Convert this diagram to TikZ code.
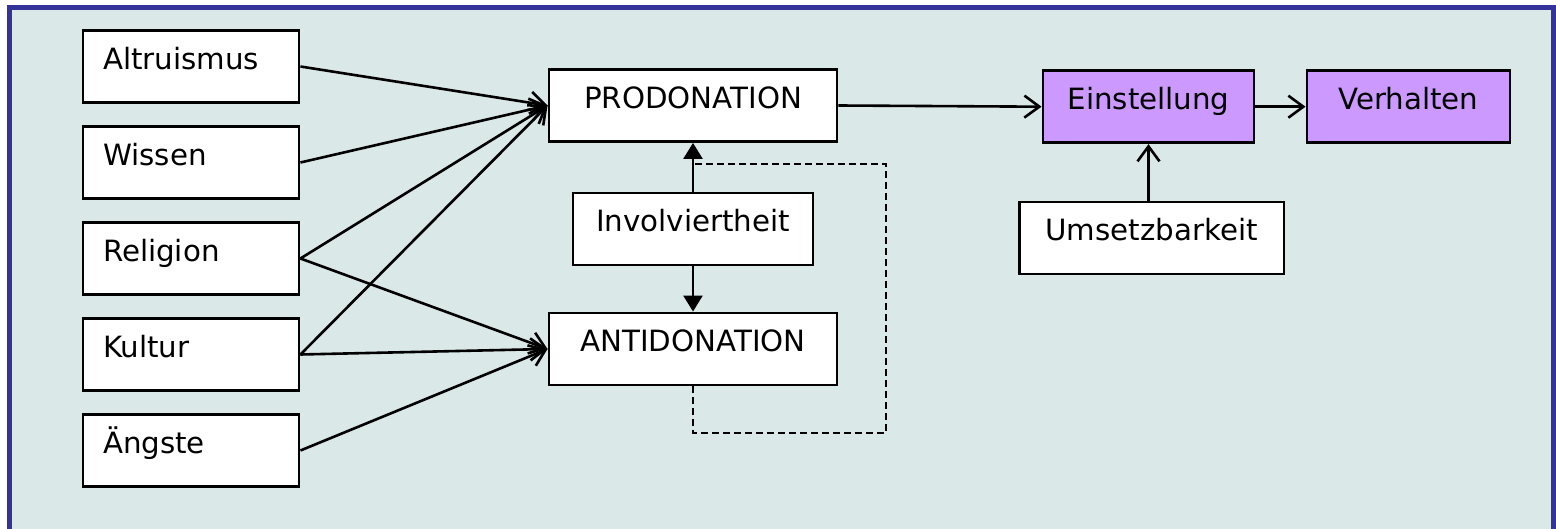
\documentclass[tikz,border=0pt]{standalone}
\usepackage{fontspec}
\setmainfont{DejaVu Sans}
\usetikzlibrary{arrows.meta}
\definecolor{bgc}{HTML}{DAE8E8}
\definecolor{framec}{HTML}{333399}
\definecolor{purp}{HTML}{CC99FF}
\begin{document}
\begin{tikzpicture}[x=1pt,y=-1pt,
  box/.style={draw=black, line width=2.9pt, fill=white, inner ysep=0pt,
    text height=39pt, text depth=33pt, font=\fontsize{29.3}{35}\selectfont},
  leftbox/.style={box, inner xsep=20pt, text width=176pt, align=left},
  cbox/.style={box, inner xsep=0pt, align=center},
  pbox/.style={cbox, fill=purp},
  arr/.style={line width=2.6pt, -{Straight Barb[length=15pt,width=22pt]}},
  farr/.style={line width=2.6pt, -{Triangle[length=16pt,width=19pt]}},
  dashline/.style={line width=2.5pt, dash pattern=on 7pt off 4pt}
]
\useasboundingbox (0,0) rectangle (1556,529);
\draw[line width=5pt, draw=framec, fill=bgc] (9.5,7.5) rectangle (1553,531);

\node[leftbox] (alt) at (191,66.5) {Altruismus};
\node[leftbox] (wis) at (191,162.5) {Wissen};
\node[leftbox] (rel) at (191,258.5) {Religion};
\node[leftbox] (kul) at (191,354.5) {Kultur};
\node[leftbox] (ang) at (191,450.5) {Ängste};

\node[cbox, minimum width=288pt] (pro) at (693,105.5) {PRODONATION};
\node[cbox, minimum width=240pt] (inv) at (693,229) {Involviertheit};
\node[cbox, minimum width=288pt] (anti) at (693,349) {ANTIDONATION};

\node[pbox, minimum width=211pt] (ein) at (1148.5,106.7) {Einstellung};
\node[pbox, minimum width=203pt] (ver) at (1408.5,106.7) {Verhalten};
\node[cbox, minimum width=264.5pt] (ums) at (1151.7,238) {Umsetzbarkeit};

\draw[arr] (alt.east) -- (pro.west);
\draw[arr] (wis.east) -- (pro.west);
\draw[arr] (rel.east) -- (pro.west);
\draw[arr] (kul.east) -- (pro.west);
\draw[arr] (rel.east) -- (anti.west);
\draw[arr] (kul.east) -- (anti.west);
\draw[arr] (ang.east) -- (anti.west);

\draw[farr] (inv.north) -- (pro.south);
\draw[farr] (inv.south) -- (anti.north);

\coordinate (dcorner) at (886,433);
\coordinate (dend) at (693,164);
\draw[dashline] (anti.south) |- (dcorner) |- (dend);

\draw[arr] (pro.east) -- (ein.west);
\draw[arr] (ein.east) -- (ver.west);
\draw[arr] (ein.south |- ums.north) -- (ein.south);
\end{tikzpicture}
\end{document}
